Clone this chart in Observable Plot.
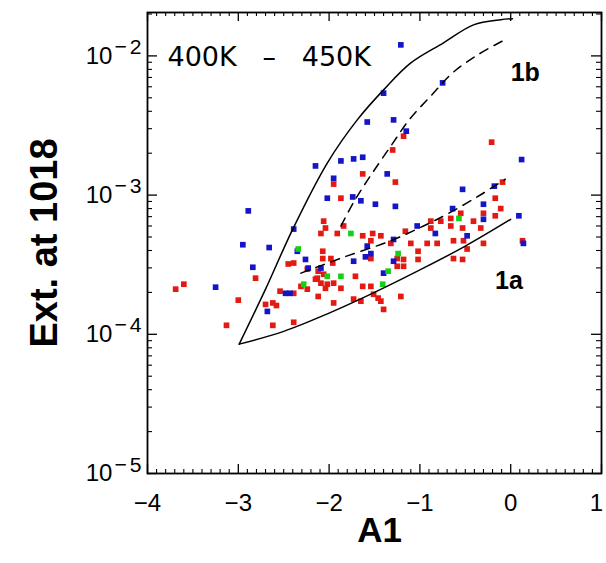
<!DOCTYPE html>
<html><head><meta charset="utf-8">
<script src="https://cdn.jsdelivr.net/npm/d3@7"></script>
<script src="https://cdn.jsdelivr.net/npm/@observablehq/plot@0.6"></script>
<style>
body{margin:0;background:#fff;}
#chart svg{display:block;}
</style></head><body><div id="chart"></div>
<script>
// ---- data (A1, extinction at 1018) ----
const redA1 = [-1.18,-1.30,-0.21,-1.63,-1.27,-1.95,-1.87,-0.09,-0.17,-0.30,-0.11,-0.17,-0.55,-0.66,-0.66,-0.53,-0.41,-0.33,-0.52,-0.63,-0.30,-0.48,-0.88,-0.77,-0.88,-0.81,-0.92,-1.16,-1.10,-1.02,-1.52,-1.54,-1.63,-1.43,-1.32,-1.84,-1.91,-2.06,-2.04,-2.09,-0.63,-0.53,-1.25,-1.18,-1.02,-1.25,-1.18,-1.54,-1.98,-1.96,-2.07,-2.39,-2.45,-2.24,0.13,-2.81,-3.69,-3.60,-3.00,-3.13,-2.12,-2.06,-2.13,-2.09,-2.02,-1.95,-2.04,-2.54,-2.39,-2.70,-2.62,-2.58,-2.24,-2.12,-1.95,-2.62,-2.39,-1.73,-1.43,-1.40,-1.51,-1.71,-1.63,-1.87,-1.54,-1.46,-1.21,-1.65,-2.15,-2.31,-2.07];
const redExt = [2.65e-3,2.11e-3,2.40e-3,1.42e-3,1.24e-3,1.20e-3,9.5e-4,1.24e-3,9.5e-4,7.4e-4,8.0e-4,7.1e-4,7.4e-4,6.0e-4,6.8e-4,5.8e-4,6.5e-4,5.8e-4,4.7e-4,4.7e-4,4.5e-4,4.1e-4,6.5e-4,6.5e-4,5.8e-4,4.5e-4,4.5e-4,5.5e-4,4.5e-4,3.95e-4,5.3e-4,4.7e-4,5.1e-4,5.1e-4,4.5e-4,6.0e-4,5.3e-4,6.5e-4,5.8e-4,5.3e-4,3.5e-4,3.45e-4,3.5e-4,3.45e-4,3.45e-4,3.08e-4,3.08e-4,3.5e-4,3.5e-4,3.25e-4,3.95e-4,3.25e-4,3.2e-4,2.94e-4,4.7e-4,2.53e-4,2.11e-4,2.29e-4,1.76e-4,1.16e-4,2.84e-4,2.70e-4,2.53e-4,2.33e-4,2.29e-4,2.33e-4,2.14e-4,2.04e-4,1.97e-4,1.64e-4,1.68e-4,1.61e-4,2.11e-4,1.87e-4,1.68e-4,1.16e-4,1.22e-4,1.79e-4,1.73e-4,1.51e-4,1.94e-4,2.61e-4,2.21e-4,2.14e-4,2.21e-4,1.82e-4,1.87e-4,1.73e-4,2.49e-4,2.21e-4,3.5e-4];
const blueA1 = [-1.21,-1.40,-0.75,-1.58,-1.29,-1.15,0.12,-1.87,-1.73,-1.63,-2.15,-1.36,-1.95,-2.02,-1.74,-1.65,-1.49,-1.27,-0.53,-0.18,-0.30,-0.30,0.09,-0.64,-0.48,-0.83,-1.03,-1.58,-1.29,-1.29,-1.60,-1.73,-2.26,-2.35,0.14,-2.89,-2.39,-2.95,-2.66,-2.84,-3.25,-2.23,-2.09,-2.48,-2.43,-2.68,-1.40,-1.54];
const blueExt = [0.0120,5.4e-3,6.4e-3,3.35e-3,3.47e-3,2.88e-3,1.80e-3,1.76e-3,1.82e-3,1.87e-3,1.62e-3,1.42e-3,1.32e-3,9.5e-4,9.7e-4,9.1e-4,8.6e-4,8.3e-4,1.10e-3,1.16e-3,8.6e-4,6.7e-4,7.1e-4,8.0e-4,5.1e-4,5.3e-4,6.0e-4,4.3e-4,4.8e-4,3.35e-4,3.6e-4,3.35e-4,3.45e-4,3.95e-4,4.5e-4,7.7e-4,5.7e-4,4.4e-4,4.2e-4,3.03e-4,2.18e-4,2.99e-4,2.99e-4,1.97e-4,1.97e-4,1.46e-4,2.75e-4,3.8e-4];
const greenA1 = [-0.57,-1.76,-1.24,-2.34,-2.28,-1.87,-1.41,-1.35,-2.02];
const greenExt = [6.8e-4,5.3e-4,3.8e-4,4.1e-4,2.29e-4,2.61e-4,2.29e-4,2.84e-4,2.61e-4];

// model curves
const curve1bSolidA1 = [-2.99,-2.70,-2.40,-2.02,-1.69,-1.40,-1.10,-0.74,-0.41,-0.11,0.02];
const curve1bSolidExt = [8.5e-5,2.11e-4,5.7e-4,1.70e-3,3.47e-3,5.7e-3,8.9e-3,0.0124,0.0167,0.0182,0.0185];
const curve1aSolidA1 = [-2.99,-2.5,-2.0,-1.5,-1.0,-0.5,0.0];
const curve1aSolidExt = [8.5e-5,1.05e-4,1.42e-4,2.0e-4,2.9e-4,4.3e-4,6.7e-4];
const curve1bDashA1 = [-1.87,-1.71,-1.54,-1.32,-1.11,-0.88,-0.64,-0.35,-0.05];
const curve1bDashExt = [6.0e-4,9.35e-4,1.39e-3,2.25e-3,3.53e-3,5.15e-3,7.55e-3,0.0103,0.0132];
const curve1aDashA1 = [-2.31,-1.84,-1.32,-0.96,-0.70,-0.37,-0.06];
const curve1aDashExt = [2.75e-4,3.58e-4,4.7e-4,6.0e-4,7.3e-4,9.7e-4,1.30e-3];

// ticks and labels
const xTicks = [-4,-3,-2,-1,0,1];
const yTicks = [1e-5,1e-4,1e-3,1e-2];
const curveLabels = ["1b","1a"];
const curveLabelA1 = [0.16,-0.02];
const curveLabelExt = [7.5e-3,2.4e-4];
const tempLabel = "400K\u00a0\u00a0\u00a0–\u00a0\u00a0\u00a0450K";

// ---- layout ----
const W = 606, H = 563, ML = 147, MR = 5, MT = 12, MB = 90;
const FW = W - ML - MR, FH = H - MT - MB;
const xMinor = d3.range(-40, 11).map(i => i / 10).filter(v => Math.abs(v - Math.round(v)) > 1e-9);
const yMinor = [];
for (let e = -5; e <= -2; e++) for (let m = 2; m <= 9; m++) { const v = m * Math.pow(10, e); if (v < 0.0205) yMinor.push(v); }

const pts = (xs, ys) => xs.map((x, i) => ({x, y: ys[i]}));
const font = "Liberation Sans, Arial, sans-serif";

const plot = Plot.plot({
  width: W, height: H,
  marginLeft: ML, marginRight: MR, marginTop: MT, marginBottom: MB,
  x: {domain: [-4, 1]},
  y: {type: "log", domain: [1e-5, 0.0205]},
  style: {fontFamily: font, fontSize: "24px", color: "black", background: "white"},
  marks: [
    // points
    Plot.dot(pts(redA1, redExt), {x: "x", y: "y", symbol: "square", r: 3.2, fill: "#e41a12", stroke: "none"}),
    Plot.dot(pts(blueA1, blueExt), {x: "x", y: "y", symbol: "square", r: 3.2, fill: "#1515c8", stroke: "none"}),
    Plot.dot(pts(greenA1, greenExt), {x: "x", y: "y", symbol: "square", r: 3.2, fill: "#16d016", stroke: "none"}),
    // curves
    Plot.line(pts(curve1bSolidA1, curve1bSolidExt), {x: "x", y: "y", curve: "catmull-rom", stroke: "black", strokeWidth: 1.5}),
    Plot.line(pts(curve1aSolidA1, curve1aSolidExt), {x: "x", y: "y", curve: "catmull-rom", stroke: "black", strokeWidth: 1.5}),
    Plot.line(pts(curve1bDashA1, curve1bDashExt), {x: "x", y: "y", curve: "catmull-rom", stroke: "black", strokeWidth: 1.5, strokeDasharray: "9,7"}),
    Plot.line(pts(curve1aDashA1, curve1aDashExt), {x: "x", y: "y", curve: "catmull-rom", stroke: "black", strokeWidth: 1.5, strokeDasharray: "9,7"}),
    // inward ticks
    Plot.tickX(xTicks, {x: d => d, insetTop: FH - 9, stroke: "black", strokeWidth: 1.3}),
    Plot.tickX(xTicks, {x: d => d, insetBottom: FH - 9, stroke: "black", strokeWidth: 1.3}),
    Plot.tickX(xMinor, {x: d => d, insetTop: FH - 4, stroke: "black", strokeWidth: 1.1}),
    Plot.tickX(xMinor, {x: d => d, insetBottom: FH - 4, stroke: "black", strokeWidth: 1.1}),
    Plot.tickY(yTicks, {y: d => d, insetRight: FW - 10, stroke: "black", strokeWidth: 1.3}),
    Plot.tickY(yTicks, {y: d => d, insetLeft: FW - 10, stroke: "black", strokeWidth: 1.3}),
    Plot.tickY(yMinor, {y: d => d, insetRight: FW - 5, stroke: "black", strokeWidth: 1.1}),
    Plot.tickY(yMinor, {y: d => d, insetLeft: FW - 5, stroke: "black", strokeWidth: 1.1}),
    Plot.frame({stroke: "black", strokeWidth: 1.8}),
    // tick labels
    Plot.axisX(xTicks, {anchor: "bottom", tickSize: 0, tickPadding: 20, label: null, fontSize: 24,
      tickFormat: d => (d < 0 ? "\u2212" + Math.abs(d) : String(d))}),
    Plot.axisY(yTicks, {anchor: "left", tickSize: 0, tickPadding: 3, label: null, fontSize: 24,
      tickFormat: d => "10^" + Math.round(Math.log10(d))}),
    // annotations
    Plot.text([tempLabel], {frameAnchor: "top-left", dx: 20, dy: 34, textAnchor: "start", fontSize: 27, fontFamily: "DejaVu Sans, sans-serif", fill: "black"}),
    Plot.text(curveLabels, {x: curveLabelA1, y: curveLabelExt, text: d => d, fontSize: 25, fontWeight: "bold", fontFamily: font, fill: "black"}),
    // axis titles
    Plot.text(["A1"], {frameAnchor: "bottom", dx: 5, dy: 68, fontSize: 35, fontWeight: "bold", fontFamily: font, fill: "black"}),
    Plot.text(["Ext. at 1018"], {frameAnchor: "left", textAnchor: "middle", dx: -103, dy: 0, rotate: -90, fontSize: 38, fontWeight: "bold", fontFamily: font, fill: "black"})
  ]
});

// y tick labels: 10 with superscript exponent
d3.select(plot).selectAll('g[aria-label="y-axis tick label"] text').each(function () {
  const t = this.textContent;
  const e = t.split("^")[1] || "";
  const s = d3.select(this);
  s.text("10");
  s.append("tspan").attr("dx", "2").attr("dy", "-0.45em").attr("font-size", "0.88em")
    .attr("letter-spacing", "3").text(e.replace("-", "\u2212"));
});
// keep the right-most x tick label inside the picture
d3.select(plot).selectAll('g[aria-label="x-axis tick label"] text').each(function () {
  if (this.textContent === "1") d3.select(this).attr("dx", "-5");
});

document.getElementById("chart").appendChild(plot);
</script>
</body></html>
